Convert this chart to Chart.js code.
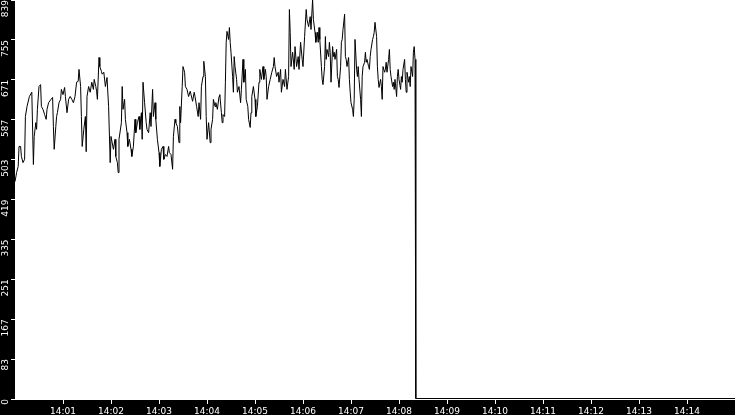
<!DOCTYPE html>
<html>
<head>
<meta charset="utf-8">
<script src="https://cdn.jsdelivr.net/npm/chart.js@4/dist/chart.umd.min.js"></script>
<style>
    html, body { margin: 0; padding: 0; background: #000; }
    #grafico { display: block; }
</style>
</head>
<body>
<canvas id="grafico" width="735" height="415"></canvas>
<script>
// seconds after 14:00 and the value read at that moment
const sampleSeconds = [
    0, 2, 4, 5, 7, 8, 10, 12, 13, 15, 18, 21, 23, 24, 26, 27, 28, 30, 32, 33,
    35, 37, 39, 40, 42, 45, 47, 48, 49, 51, 52, 53, 55, 57, 58, 60, 62, 63, 65, 67,
    69, 71, 73, 75, 77, 79, 80, 82, 83, 84, 86, 88, 89, 90, 92, 94, 96, 98, 99, 101,
    102, 103, 105, 106, 108, 109, 111, 113, 115, 117, 119, 120, 123, 125, 126, 128, 129, 130, 133, 134,
    135, 137, 138, 140, 141, 143, 145, 146, 148, 150, 151, 153, 155, 156, 158, 159, 160, 162, 164, 165,
    167, 169, 170, 172, 173, 175, 176, 178, 180, 181, 183, 185, 186, 188, 190, 192, 193, 195, 197, 198,
    200, 201, 203, 205, 206, 207, 209, 210, 212, 213, 215, 217, 219, 220, 222, 224, 225, 227, 229, 230,
    232, 233, 235, 236, 238, 239, 240, 242, 244, 245, 247, 248, 250, 251, 253, 255, 256, 258, 259, 260,
    262, 263, 264, 265, 267, 268, 269, 270, 272, 273, 274, 275, 277, 278, 280, 282, 283, 285, 286, 288,
    289, 291, 292, 294, 295, 296, 298, 300, 301, 303, 305, 306, 308, 310, 311, 313, 314, 315, 317, 319,
    321, 323, 324, 325, 327, 329, 330, 332, 333, 335, 337, 338, 340, 342, 343, 344, 345, 347, 349, 350,
    352, 354, 355, 357, 359, 360, 362, 364, 365, 367, 369, 370, 372, 373, 375, 376, 378, 379, 380, 381,
    383, 384, 385, 387, 388, 389, 390, 392, 393, 394, 395, 397, 398, 399, 400, 402, 403, 404, 405, 407,
    408, 409, 410, 412, 413, 414, 415, 417, 418, 419, 420, 422, 423, 424, 425, 427, 428, 429, 430, 432,
    433, 434, 435, 437, 438, 439, 440, 442, 443, 444, 445, 447, 448, 449, 450, 452, 453, 454, 455, 457,
    458, 459, 460, 462, 463, 464, 465, 467, 468, 469, 470, 472, 473, 474, 475, 477, 478, 479, 480, 482,
    483, 484, 485, 487, 488, 489, 490, 492, 493, 494, 495, 497, 498, 499, 500, 501, 900
];
const values = [
    456, 475, 488, 530, 530, 509, 496, 503, 593, 614, 635, 644, 492, 551, 580, 566, 608, 656, 660, 614,
    608, 597, 587, 608, 622, 629, 633, 572, 524, 572, 593, 601, 622, 629, 650, 639, 654, 635, 601, 629,
    635, 629, 622, 635, 665, 667, 692, 656, 593, 530, 566, 593, 519, 635, 656, 644, 665, 650, 671, 656,
    646, 629, 717, 698, 688, 682, 686, 656, 675, 614, 496, 551, 524, 545, 509, 496, 475, 545, 580, 656,
    608, 629, 587, 559, 530, 545, 524, 509, 530, 587, 559, 580, 593, 566, 601, 545, 665, 622, 580, 566,
    559, 601, 572, 650, 593, 622, 587, 545, 517, 488, 524, 530, 503, 513, 509, 530, 517, 513, 482, 551,
    587, 580, 572, 538, 614, 580, 656, 698, 686, 656, 650, 635, 646, 639, 625, 644, 635, 614, 593, 622,
    587, 656, 677, 709, 677, 593, 545, 580, 538, 566, 587, 629, 614, 622, 608, 635, 639, 601, 580, 597,
    593, 665, 749, 772, 755, 780, 749, 728, 677, 644, 719, 698, 671, 644, 656, 622, 650, 713, 665, 692,
    629, 614, 587, 570, 601, 635, 656, 629, 593, 614, 665, 692, 671, 698, 671, 692, 677, 629, 656, 671,
    686, 698, 717, 698, 677, 686, 665, 692, 644, 671, 656, 692, 650, 677, 818, 770, 698, 728, 692, 740,
    698, 719, 692, 749, 713, 698, 761, 818, 797, 782, 803, 776, 839, 797, 770, 749, 770, 749, 780, 755,
    698, 671, 660, 698, 761, 713, 734, 719, 749, 728, 665, 740, 719, 728, 713, 734, 677, 671, 654, 698,
    749, 755, 776, 808, 719, 713, 698, 717, 671, 644, 622, 608, 593, 629, 755, 692, 677, 698, 671, 629,
    593, 677, 698, 707, 728, 707, 713, 698, 692, 719, 734, 755, 761, 770, 791, 761, 698, 671, 654, 671,
    656, 629, 698, 686, 692, 707, 686, 713, 734, 692, 677, 656, 665, 650, 671, 635, 677, 692, 671, 650,
    677, 665, 692, 713, 671, 644, 686, 665, 677, 656, 698, 677, 728, 740, 713, 0, 0
];

const xTickSeconds = [60, 120, 180, 240, 300, 360, 420, 480, 540, 600, 660, 720, 780, 840];
const xTickLabels = ['14:01', '14:02', '14:03', '14:04', '14:05', '14:06', '14:07',
    '14:08', '14:09', '14:10', '14:11', '14:12', '14:13', '14:14'];
const yTickValues = [0, 83.9, 167.8, 251.7, 335.6, 419.5, 503.4, 587.3, 671.2, 755.1, 839];
const yTickLabels = ['0', '83', '167', '251', '335', '419', '503', '587', '671', '755', '839'];

const fonte = { family: 'DejaVu Sans', size: 9 };

// black frame around a white plotting area (one extra white row under the zero line)
const fundoGrafico = {
    id: 'fundoGrafico',
    beforeDraw(chart) {
        const { ctx, chartArea: a } = chart;
        ctx.save();
        ctx.fillStyle = '#000';
        ctx.fillRect(0, 0, chart.width, chart.height);
        ctx.fillStyle = '#fff';
        ctx.fillRect(a.left, a.top, a.right - a.left, a.bottom - a.top + 1);
        ctx.restore();
    },
    // half-pixel nudge so the zero line sits on a single row
    beforeDatasetsDraw(chart) {
        chart.ctx.save();
        chart.ctx.translate(0, -0.5);
    },
    afterDatasetsDraw(chart) {
        chart.ctx.restore();
    }
};

const ctx = document.getElementById('grafico').getContext('2d');
const grafico = new Chart(ctx, {
    type: 'line',
    data: {
        datasets: [{
            data: sampleSeconds.map((s, i) => ({ x: s, y: values[i] })),
            borderColor: '#000',
            borderWidth: 1,
            pointRadius: 0,
            tension: 0,
            fill: false,
            clip: 2
        }]
    },
    options: {
        responsive: false,
        animation: false,
        devicePixelRatio: 1,
        layout: { padding: 0 },
        plugins: {
            legend: { display: false },
            tooltip: { enabled: false }
        },
        scales: {
            x: {
                type: 'linear',
                min: 0,
                max: 900,
                afterBuildTicks: (scale) => { scale.ticks = xTickSeconds.map(v => ({ value: v })); },
                afterFit: (scale) => {
                    scale.height = 16;
                    scale.paddingLeft = 0;
                    scale.paddingRight = 0;
                },
                border: { display: false },
                grid: { drawOnChartArea: false, color: '#fff', tickColor: '#fff', tickLength: 5 },
                ticks: {
                    color: '#fff',
                    font: fonte,
                    padding: 2,
                    maxRotation: 0,
                    autoSkip: false,
                    callback: (v, i) => xTickLabels[i]
                }
            },
            y: {
                min: 0,
                max: 839,
                afterBuildTicks: (scale) => { scale.ticks = yTickValues.map(v => ({ value: v })); },
                afterFit: (scale) => {
                    scale.width = 15;
                    scale.paddingTop = 0;
                    scale.paddingBottom = 0;
                },
                border: { display: false },
                grid: { drawOnChartArea: false, color: '#fff', tickColor: '#fff', tickLength: 4 },
                ticks: {
                    color: '#fff',
                    font: fonte,
                    padding: 5,
                    minRotation: 90,
                    maxRotation: 90,
                    autoSkip: false,
                    callback: (v, i) => yTickLabels[i]
                }
            }
        }
    },
    plugins: [fundoGrafico]
});
</script>
</body>
</html>
